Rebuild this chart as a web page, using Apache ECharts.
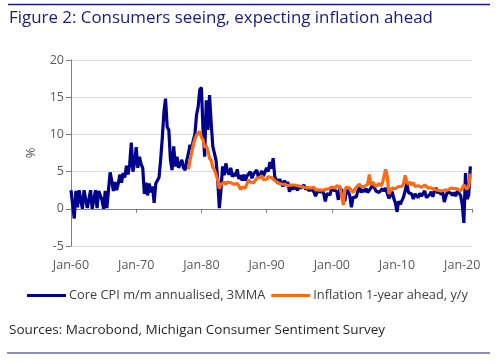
<!DOCTYPE html>
<html>
<head>
<meta charset="utf-8">
<script src="https://cdn.jsdelivr.net/npm/echarts@6/dist/echarts.min.js"></script>
<style>
html,body{margin:0;padding:0;background:#fff;}
#c{width:500px;height:364px;}
</style>
</head>
<body>
<div id="c"></div>
<script>
// Quarterly series, first value at blueStart / orangeStart (decimal year)
const blueStart = 1960;
const blueName = 'Core CPI m/m annualised, 3MMA';
const blueValues = [
  2.5, 0.6, -1.3, 2.4,   0.2, 2.5, 1.2, 0.0,   2.5, 2.4, 0.1, 1.3,   2.5, 0.0, 1.2, 2.5,
  0.1, 2.4, 2.5, 1.2,    0.0, 2.4, 0.1, 2.5,   4.9, 3.8, 2.4, 3.6,   2.5, 3.4, 4.6, 3.5,
  4.8, 4.2, 5.8, 4.6,    6.0, 8.9, 5.0, 6.2,   8.3, 5.5, 7.0, 6.0,   5.5, 2.0, 3.5, 1.8,
  3.4, 2.2, 3.0, 0.8,    3.4, 3.6, 4.2, 6.6,   9.5, 13.0, 14.8, 11.0, 10.6, 6.6, 5.2, 8.4,
  5.7, 7.0, 5.5, 6.0,    6.6, 5.5, 5.2, 6.5,   7.4, 8.6, 8.0, 9.2,   10.0, 12.6, 13.7, 16.0,
  16.3, 10.6, 7.0, 14.6, 10.6, 15.3, 11.5, 8.4, 8.4, 6.5, 3.9, 0.1, 2.5, 5.7, 4.5, 6.1,
  5.0, 4.6, 5.5, 4.3,    4.8, 4.4, 5.3, 4.0,   4.5, 3.8, 4.6, 3.8,   4.4, 4.3, 5.0, 4.1,
  4.7, 4.5, 5.2, 4.2,    4.5, 5.1, 4.4, 4.6,   5.5, 5.0, 6.3, 5.4,   6.8, 4.3, 3.9, 3.4,
  4.0, 3.5, 3.0, 3.8,    3.2, 3.6, 2.3, 3.0,   2.6, 3.0, 2.8, 2.5,   3.1, 2.8, 2.6, 3.2,
  2.6, 2.9, 2.4, 2.7,    2.5, 2.3, 1.7, 2.2,   2.6, 2.2, 2.5, 2.1,   1.0, 2.0, 2.2, 1.9,
  3.0, 2.5, 2.6, 2.4,    1.2, 2.8, 2.5, 2.4,   1.0, 2.6, 2.3, 1.8,   0.2, 1.5, 1.3, 1.6,
  2.4, 2.9, 2.2, 2.6,    2.3, 2.7, 2.2, 2.5,   2.8, 3.2, 2.9, 2.4,   2.6, 2.2, 2.4, 2.7,
  2.4, 2.8, 2.6, 1.4,    1.8, 2.3, 1.4, 0.8,   -0.4, 1.0, 0.6, 0.8,  1.6, 2.4, 3.5, 2.2,
  2.4, 2.0, 1.3, 2.0,    1.9, 1.5, 2.1, 1.7,   1.9, 2.4, 1.5, 1.7,   1.9, 2.3, 1.6, 2.4,
  2.8, 2.1, 2.5, 1.9,    2.3, 0.9, 1.7, 2.3,   2.4, 2.1, 1.8, 2.2,   1.7, 2.4, 2.6, 1.8,
  0.6, -1.9, 4.8, 1.3,   1.9, 5.7
];

const orangeStart = 1978;
const orangeName = 'Inflation 1-year ahead, y/y';
const orangeValues = [
  5.3, 6.5, 7.5, 8.6,    9.4, 9.9, 10.1, 10.4, 9.6, 9.3, 8.2, 8.5,   7.8, 6.8, 6.5, 5.6,
  5.2, 4.6, 3.9, 2.7,    3.3, 3.5, 3.6, 3.3,   3.6, 3.4, 3.5, 3.4,   3.3, 3.2, 3.4, 3.1,
  2.6, 2.9, 3.0, 2.8,    3.4, 3.9, 3.6, 3.7,   3.5, 3.8, 4.1, 3.9,   4.2, 4.5, 3.9, 3.8,
  4.0, 4.3, 4.5, 4.2,    4.0, 3.8, 3.6, 3.5,   3.4, 3.3, 3.2, 3.3,   3.4, 3.1, 3.0, 3.2,
  3.1, 3.2, 3.0, 3.1,    2.9, 3.0, 3.1, 2.9,   3.0, 2.8, 2.9, 2.8,   2.7, 2.9, 2.6, 2.7,
  2.5, 2.6, 2.5, 2.7,    2.6, 2.8, 2.7, 2.8,   2.9, 3.0, 2.8, 3.1,   2.9, 3.0, 2.8, 0.5,
  2.6, 2.9, 2.7, 2.8,    2.8, 2.2, 2.6, 2.9,   2.9, 3.3, 3.0, 2.9,   3.0, 2.9, 3.3, 4.6,
  3.2, 3.6, 3.4, 3.0,    3.0, 3.4, 3.1, 3.4,   3.6, 5.3, 4.4, 2.0,   2.0, 2.8, 2.9, 2.7,
  2.8, 3.0, 2.8, 3.0,    3.4, 4.5, 3.6, 3.3,   3.6, 3.2, 3.5, 3.0,   3.1, 3.1, 3.0, 2.9,
  3.1, 3.2, 3.1, 2.8,    2.6, 2.8, 2.8, 2.6,   2.6, 2.5, 2.4, 2.4,   2.6, 2.5, 2.6, 2.5,
  2.7, 2.8, 2.8, 2.7,    2.6, 2.7, 2.6, 2.4,   2.2, 3.2, 3.1, 2.6,   3.1, 4.7
];

const xTicks = [1960, 1970, 1980, 1990, 2000, 2010, 2020];
const xLabels = ['Jan-60', 'Jan-70', 'Jan-80', 'Jan-90', 'Jan-00', 'Jan-10', 'Jan-20'];

const title = 'Figure 2: Consumers seeing, expecting inflation ahead';
const source = 'Sources: Macrobond, Michigan Consumer Sentiment Survey';

const blueData = blueValues.map((v, i) => [blueStart + i * 0.25, v]);
const orangeData = orangeValues.map((v, i) => [orangeStart + i * 0.25, v]);

const FONT = 'Open Sans';
const NAVY = '#1b1b80';
const chart = echarts.init(document.getElementById('c'), null, {renderer: 'canvas'});
chart.setOption({
  animation: false,
  backgroundColor: '#fff',
  textStyle: {fontFamily: FONT},
  grid: {left: 71, right: 28, top: 60, bottom: 118, containLabel: false},
  xAxis: [
    {
      type: 'value', position: 'bottom', min: 1960, max: 2021.5, interval: 10,
      axisLine: {show: false, onZero: false}, axisTick: {show: false},
      splitLine: {show: false},
      axisLabel: {
        showMaxLabel: false, margin: 13, color: '#595959', fontSize: 12.5, fontFamily: FONT,
        formatter: v => { const k = xTicks.indexOf(v); return k >= 0 ? xLabels[k] : ''; }
      }
    },
    {
      type: 'value', position: 'bottom', min: 1960, max: 2021.5, interval: 10,
      axisLine: {show: true, onZero: true, lineStyle: {color: '#7f7f7f', width: 1}},
      axisTick: {show: true, length: 4, lineStyle: {color: '#7f7f7f'}},
      axisLabel: {show: false}, splitLine: {show: false}
    }
  ],
  yAxis: {
    type: 'value', min: -5, max: 20, interval: 5,
    name: '%', nameLocation: 'middle', nameGap: 33, nameRotate: 90,
    nameTextStyle: {color: '#595959', fontSize: 13, fontFamily: FONT},
    axisLine: {show: true, lineStyle: {color: '#7f7f7f'}},
    axisTick: {show: true, length: 5, lineStyle: {color: '#7f7f7f'}},
    axisLabel: {color: '#595959', fontSize: 12.5, margin: 7, fontFamily: FONT},
    splitLine: {show: true, lineStyle: {color: '#d9d9d9', width: 1}}
  },
  legend: {
    left: 22, top: 284, icon: 'rect', itemWidth: 39, itemHeight: 3, itemGap: 6,
    textStyle: {color: '#404040', fontSize: 12.8, fontFamily: FONT, padding: [0, 0, 0, -2]},
    data: [blueName, orangeName]
  },
  series: [
    {
      name: blueName, type: 'line', xAxisIndex: 0, data: blueData, showSymbol: false,
      lineStyle: {color: '#00008c', width: 3.2}, itemStyle: {color: '#00008c'}, z: 2
    },
    {
      name: orangeName, type: 'line', xAxisIndex: 0, data: orangeData, showSymbol: false,
      lineStyle: {color: '#ff6a10', width: 3.2}, itemStyle: {color: '#ff6a10'}, z: 3
    }
  ],
  graphic: [
    {type: 'line', shape: {x1: 8, y1: 4.5, x2: 490, y2: 4.5}, style: {stroke: NAVY, lineWidth: 1.5}},
    {type: 'text', left: 9, top: 10, style: {text: title, fill: NAVY, font: '16.9px "Open Sans"'}},
    {type: 'text', left: 9, top: 323, style: {text: source, fill: '#262626', font: '13.5px "Open Sans"'}},
    {type: 'line', shape: {x1: 7, y1: 353, x2: 490, y2: 353}, style: {stroke: NAVY, lineWidth: 1.2}}
  ]
});
</script>
</body>
</html>
